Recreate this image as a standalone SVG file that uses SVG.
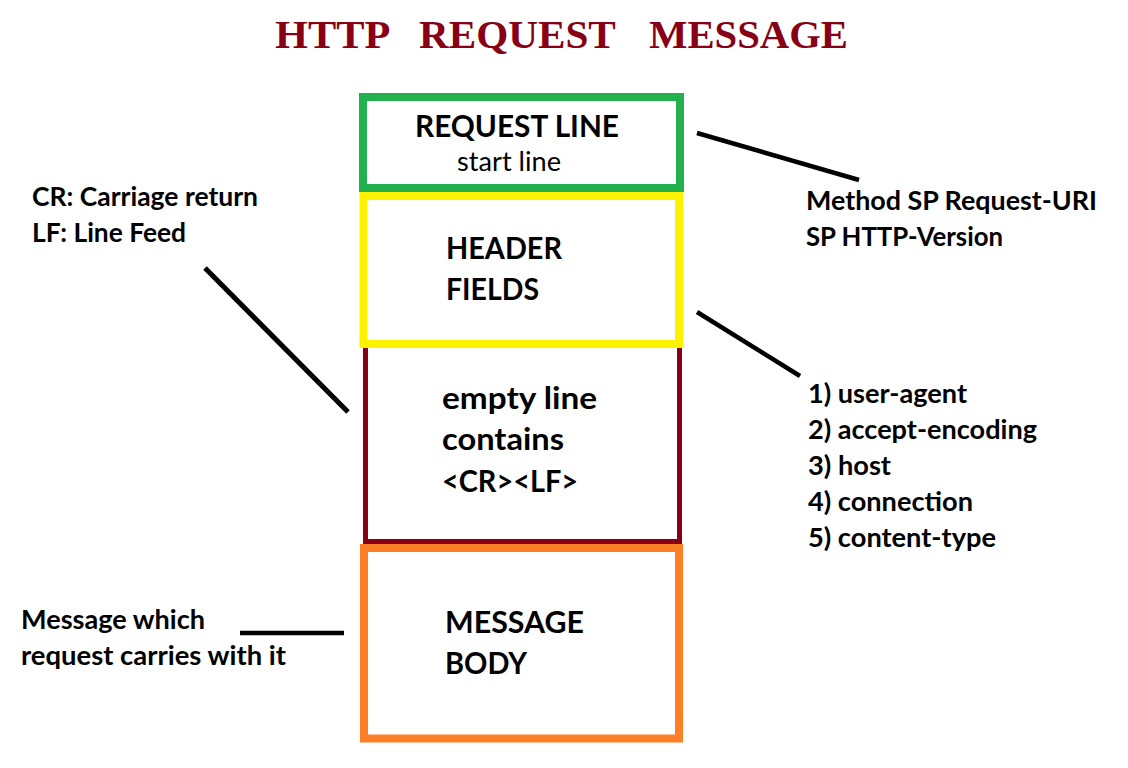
<svg xmlns="http://www.w3.org/2000/svg" width="1128" height="768" viewBox="0 0 1128 768">
<style>
.t{font-family:Lato,"Open Sans","Liberation Sans",sans-serif;font-weight:bold;fill:#000}
.reg{font-weight:normal}
.box{fill:none}
.lbl{font-size:31px}
.side{font-size:26px}
.ttl{font-family:'Liberation Serif','Times New Roman',serif;font-weight:bold;font-size:40px;fill:#880015}
.conn{stroke:#000;stroke-linecap:butt;fill:none}
</style>
<rect width="1128" height="768" fill="#fff"/>
<text id="title" class="ttl" y="48"><tspan x="275" textLength="113" lengthAdjust="spacingAndGlyphs">HTTP</tspan> <tspan x="419" textLength="196" lengthAdjust="spacingAndGlyphs">REQUEST</tspan> <tspan x="649" textLength="199" lengthAdjust="spacingAndGlyphs">MESSAGE</tspan></text>

<g id="empty-line">
  <rect class="box" x="365.5" y="344" width="314" height="197.5" stroke="#880015" stroke-width="5"/>
  <text class="t lbl" x="442" y="409" textLength="155" lengthAdjust="spacingAndGlyphs">empty line</text>
  <text class="t lbl" x="442" y="450" textLength="122" lengthAdjust="spacingAndGlyphs">contains</text>
  <text class="t lbl" x="442" y="492" textLength="136" lengthAdjust="spacingAndGlyphs">&lt;CR&gt;&lt;LF&gt;</text>
</g>
<g id="header-fields">
  <rect class="box" x="363.5" y="196" width="315.5" height="148" stroke="#fff200" stroke-width="8"/>
  <text class="t lbl" x="446" y="259" textLength="116" lengthAdjust="spacingAndGlyphs">HEADER</text>
  <text class="t lbl" x="446" y="300" textLength="93" lengthAdjust="spacingAndGlyphs">FIELDS</text>
</g>
<g id="request-line">
  <rect class="box" x="363" y="97" width="317" height="91" stroke="#22b14c" stroke-width="8"/>
  <text class="t lbl" x="415" y="137" textLength="204" lengthAdjust="spacingAndGlyphs">REQUEST LINE</text>
  <text class="t reg" x="457" y="171" font-size="27" textLength="104" lengthAdjust="spacingAndGlyphs">start line</text>
</g>
<g id="message-body">
  <rect class="box" x="364" y="548" width="315" height="190.5" stroke="#ff7f27" stroke-width="8"/>
  <text class="t lbl" x="445" y="633" textLength="139" lengthAdjust="spacingAndGlyphs">MESSAGE</text>
  <text class="t lbl" x="445" y="674" textLength="82" lengthAdjust="spacingAndGlyphs">BODY</text>
</g>

<g id="note-crlf">
  <text class="t side" x="32" y="206" textLength="226" lengthAdjust="spacingAndGlyphs">CR: Carriage return</text>
  <text class="t side" x="32" y="242" textLength="154" lengthAdjust="spacingAndGlyphs">LF: Line Feed</text>
</g>
<g id="note-request-line">
  <text class="t side" x="806" y="210" textLength="291" lengthAdjust="spacingAndGlyphs">Method SP Request-URI</text>
  <text class="t side" x="806" y="246" textLength="197" lengthAdjust="spacingAndGlyphs">SP HTTP-Version</text>
</g>
<g id="note-headers">
  <text class="t side" x="808" y="403" textLength="159" lengthAdjust="spacingAndGlyphs">1) user-agent</text>
  <text class="t side" x="808" y="439" textLength="229" lengthAdjust="spacingAndGlyphs">2) accept-encoding</text>
  <text class="t side" x="808" y="475" textLength="83" lengthAdjust="spacingAndGlyphs">3) host</text>
  <text class="t side" x="808" y="511" textLength="165" lengthAdjust="spacingAndGlyphs">4) connection</text>
  <text class="t side" x="808" y="547" textLength="188" lengthAdjust="spacingAndGlyphs">5) content-type</text>
</g>
<g id="note-body">
  <text class="t side" x="21" y="629" textLength="184" lengthAdjust="spacingAndGlyphs">Message which</text>
  <text class="t side" x="21" y="665" textLength="265" lengthAdjust="spacingAndGlyphs">request carries with it</text>
</g>

<g id="connectors">
  <line class="conn" x1="205" y1="268" x2="348" y2="412" stroke-width="5"/>
  <line class="conn" x1="697" y1="133" x2="859" y2="180" stroke-width="4.5"/>
  <line class="conn" x1="697" y1="312" x2="800" y2="376" stroke-width="4.5"/>
  <line class="conn" x1="240" y1="633" x2="344" y2="633" stroke-width="4.5"/>
</g>
</svg>
